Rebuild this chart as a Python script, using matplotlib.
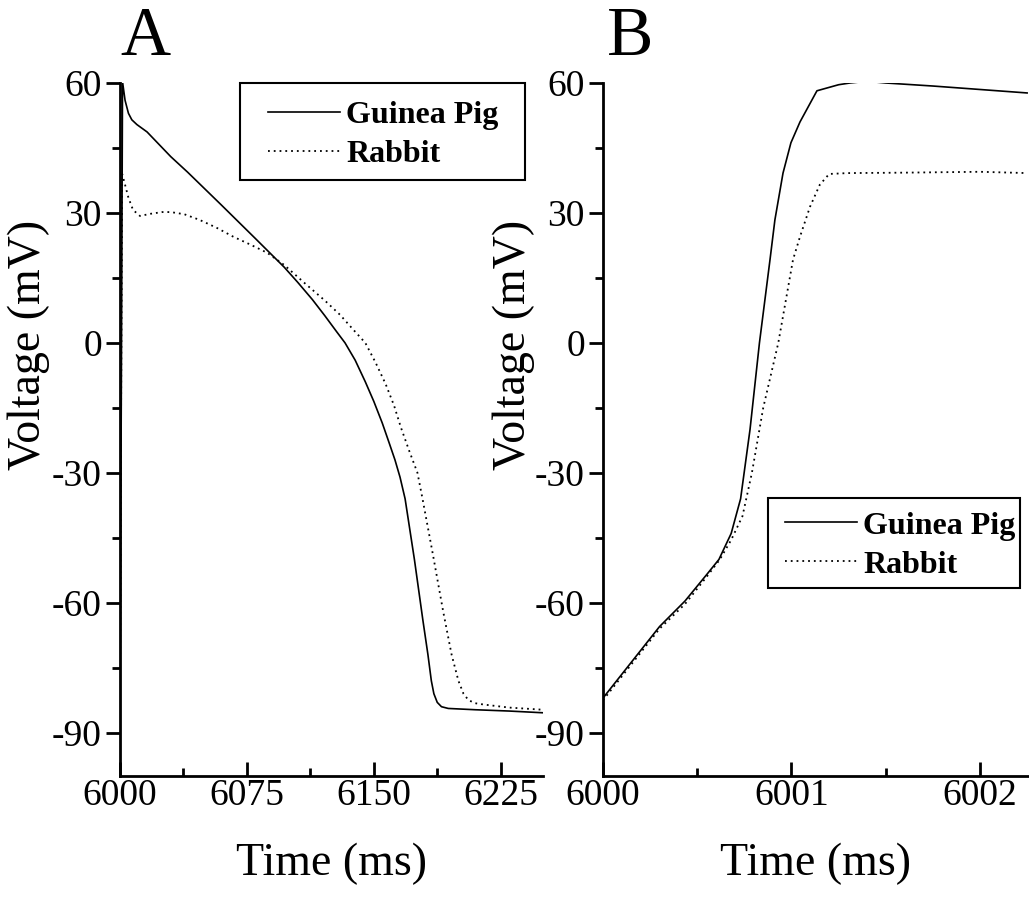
import matplotlib
matplotlib.use('Agg')
import matplotlib.pyplot as plt
from matplotlib.patches import Rectangle
from matplotlib.ticker import MultipleLocator

plt.rcParams['font.family'] = ['Liberation Serif', 'DejaVu Serif']
plt.rcParams['axes.unicode_minus'] = False

# Panel A: full action potential (ms, mV)
gp_t_a = [6000.0, 6000.8, 6001.5, 6003, 6005, 6007, 6010, 6016, 6030, 6040, 6060,
          6080, 6097, 6105, 6113.7, 6121, 6128, 6133, 6139, 6145, 6150, 6155,
          6159, 6162.5, 6165.5, 6168.5, 6174, 6179, 6182, 6184, 6185.5, 6187.5,
          6190, 6194, 6210, 6230, 6250]
gp_v_a = [-82, -10, 60.3, 56, 53, 51.5, 50.4, 48.7, 43, 39.4, 31.8,
          24.1, 17.5, 14, 10, 6.3, 2.6, 0, -4, -9, -13.5, -18.5,
          -23, -27, -31, -36, -50, -64, -72, -78, -81, -83,
          -84, -84.4, -84.7, -85.0, -85.4]

rb_t_a = [6000.0, 6000.6, 6001.3, 6003, 6005, 6007.7, 6011.8, 6018, 6025, 6030,
          6038, 6047, 6057, 6067, 6077, 6087, 6097, 6110, 6121, 6130, 6138, 6145,
          6151, 6157, 6162, 6166, 6171, 6175.8, 6178.8, 6185, 6191, 6196, 6200,
          6203, 6206, 6210, 6215, 6230, 6250]
rb_v_a = [-82.5, -20, 39.0, 36.5, 33.5, 30.7, 29.3, 29.8, 30.2, 30.2,
          29.7, 28.4, 26.6, 24.5, 22.7, 20.8, 18.0, 13.5, 9.8, 6.5, 3, 0,
          -4.5, -9.5, -14.5, -19.5, -25, -30, -36, -49, -62, -72, -78,
          -81, -82.5, -83.2, -83.5, -84.2, -84.7]

# Panel B: upstroke detail (ms, mV)
gp_t_b = [6000.0, 6000.1, 6000.2, 6000.3, 6000.435, 6000.55, 6000.615, 6000.68,
          6000.73, 6000.78, 6000.83, 6000.886, 6000.912, 6000.955, 6000.997,
          6001.045, 6001.135, 6001.25, 6001.31, 6001.4, 6001.5, 6001.75,
          6002.0, 6002.25]
gp_v_b = [-82, -76.5, -71, -65.5, -59.6, -53.5, -50, -44,
          -36, -20, 0, 19.2, 28.4, 39.2, 46.2,
          51, 58.2, 59.6, 60.0, 60.4, 60.0, 59.3,
          58.5, 57.7]

rb_t_b = [6000.0, 6000.1, 6000.2, 6000.3, 6000.435, 6000.55, 6000.62, 6000.68,
          6000.74, 6000.79, 6000.85, 6000.93, 6001.008, 6001.045, 6001.098,
          6001.15, 6001.2, 6001.3, 6001.6, 6002.0, 6002.25]
rb_v_b = [-82.5, -77, -71.5, -66, -60.3, -54, -50, -45.5,
          -40, -30, -15, 0, 19.2, 24.5, 31.4,
          36.5, 39.0, 39.2, 39.3, 39.5, 39.2]

species = ['Guinea Pig', 'Rabbit']

fig = plt.figure(figsize=(10.29, 9.09), dpi=100)
ax_a = fig.add_axes([0.1166, 0.1463, 0.4111, 0.7624])
ax_b = fig.add_axes([0.586, 0.1463, 0.414, 0.7624])


def style_axes(ax, xmajor, xminor, ylabel_x):
    for side in ['top', 'right']:
        ax.spines[side].set_visible(False)
    for side in ['left', 'bottom']:
        ax.spines[side].set_linewidth(2)
    ax.set_ylim(-100, 60)
    ax.set_yticks([60, 30, 0, -30, -60, -90])
    ax.yaxis.set_minor_locator(MultipleLocator(15))
    ax.xaxis.set_major_locator(MultipleLocator(xmajor))
    ax.xaxis.set_minor_locator(MultipleLocator(xminor))
    ax.tick_params(axis='y', which='major', direction='out', length=10, width=2,
                   labelsize=27, pad=3)
    ax.tick_params(axis='y', which='minor', direction='out', length=6, width=2)
    ax.tick_params(axis='x', which='major', direction='in', length=10, width=2,
                   labelsize=27, pad=2)
    ax.tick_params(axis='x', which='minor', direction='in', length=6, width=2)
    ax.set_xlabel('Time (ms)', fontsize=33, labelpad=21)
    ax.set_ylabel('Voltage (mV)', fontsize=33)
    ax.yaxis.set_label_coords(ylabel_x, 0.622)


def add_legend(ax, anchor, box):
    leg = ax.legend(loc='upper left', bbox_to_anchor=anchor, frameon=False,
                    handlelength=2.26, handletextpad=0.19, labelspacing=0.3,
                    borderpad=0, borderaxespad=0,
                    prop={'size': 23, 'weight': 'bold'})
    # square frame drawn separately so the padding can be set per side
    x0, y0, x1, y1 = box
    ax.add_patch(Rectangle((x0, y0), x1 - x0, y1 - y0, transform=ax.transAxes,
                           fill=False, edgecolor='black', lw=1.5, clip_on=False))
    return leg


ax_a.plot(gp_t_a, gp_v_a, color='black', lw=1.2, label=species[0])
ax_a.plot(rb_t_a, rb_v_a, color='black', lw=1.3, linestyle=(0, (1, 2.2)), label=species[1])
ax_a.set_xlim(6000, 6250)
style_axes(ax_a, 75, 37.5, -0.165)
ax_a.set_xticks([6000, 6075, 6150, 6225])
add_legend(ax_a, (0.35, 0.974), (0.284, 0.860, 0.957, 1.0))

ax_b.plot(gp_t_b, gp_v_b, color='black', lw=1.2, label=species[0])
ax_b.plot(rb_t_b, rb_v_b, color='black', lw=1.3, linestyle=(0, (1, 2.2)), label=species[1])
ax_b.set_xlim(6000, 6002.26)
style_axes(ax_b, 1, 0.5, -0.16)
add_legend(ax_b, (0.427, 0.382), (0.387, 0.271, 0.979, 0.401))

fig.text(0.141, 0.94, 'A', fontsize=50, ha='center', va='baseline')
fig.text(0.612, 0.94, 'B', fontsize=50, ha='center', va='baseline')

fig.savefig('out.png', dpi=100)
